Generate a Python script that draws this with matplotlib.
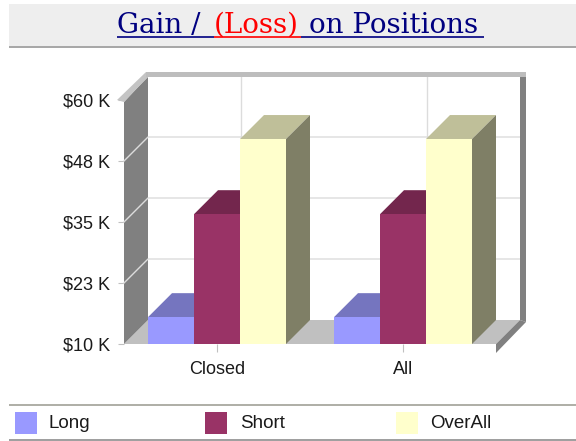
import matplotlib
matplotlib.use("Agg")
import matplotlib.pyplot as plt
from matplotlib.patches import Rectangle

categories = ["Closed", "All"]
series_names = ["Long", "Short", "OverAll"]
long_values = [15.5, 15.5]
short_values = [36.6, 36.6]
overall_values = [52, 52]
tick_values = [10, 22.5, 35, 47.5, 60]
tick_labels = ["$10 K", "$23 K", "$35 K", "$48 K", "$60 K"]

front_colors = ["#9999FF", "#993366", "#FFFFCC"]
top_colors = ["#7575BF", "#73264D", "#BFBF99"]
side_colors = ["#5F5F9F", "#5A1E3C", "#7F7F66"]

W, H = 576, 441
fig = plt.figure(figsize=(W / 100, H / 100), dpi=100, facecolor="white")

# overlay in pixel coordinates for title band and legend
bg = fig.add_axes([0, 0, 1, 1])
bg.set_xlim(0, W)
bg.set_ylim(H, 0)
bg.axis("off")

bg.add_patch(Rectangle((9, 4), W - 9, 42, fc="#EEEEEE", ec="none"))
bg.add_patch(Rectangle((9, 46), W - 9, 2, fc="#A8A8A8", ec="none"))

title_parts = ["Gain /", "(Loss)", "on Positions"]
title_colors = ["#000080", "#FF0000", "#000080"]
title_x = [117, 214, 309]
underline_x = [(117, 214), (214, 301), (301, 484)]
for txt, col, tx, (u0, u1) in zip(title_parts, title_colors, title_x, underline_x):
    bg.text(tx, 33, txt, color=col, family="DejaVu Serif", fontsize=20,
            va="baseline", ha="left")
    bg.plot([u0, u1], [37, 37], color=col, lw=1.2, solid_capstyle="butt")

# chart axes: front plane of the 3D box
left, right, floor, top = 124, 496, 344, 100
ax = fig.add_axes([left / W, 1 - floor / H, (right - left) / W, (floor - top) / H])
ax.set_xlim(-0.5, 1.5)
ax.set_ylim(10, 60)
ax.patch.set_visible(False)
for s in ax.spines.values():
    s.set_visible(False)


def px_x(n):
    return n / (right - left) * 2


def px_y(n):
    return n / (floor - top) * 50


dx, dy = px_x(24), px_y(24)
x0, x1, y0, y1 = -0.5, 1.5, 10, 60
frame = dict(clip_on=False, lw=0)

# back wall, floor, left wall
ax.fill([x0 + dx, x1 + dx, x1 + dx, x0 + dx], [y0 + dy, y0 + dy, y1 + dy, y1 + dy], color="white", zorder=1, **frame)
ax.fill([x0, x1, x1 + dx, x0 + dx], [y0, y0, y0 + dy, y0 + dy], color="#C0C0C0", zorder=2, **frame)
ax.fill([x0, x0 + dx, x0 + dx, x0], [y0, y0 + dy, y1 + dy, y1 - px_y(2)], color="#808080", zorder=2, **frame)

# grid on the walls
for v in tick_values[1:]:
    ax.plot([x0, x0 + dx, x1 + dx], [v, v + dy, v + dy], color="#DCDCDC", lw=1, zorder=3, clip_on=False)
for i in range(len(categories)):
    ax.plot([i + dx, i + dx], [y0 + dy, y1 + dy], color="#DCDCDC", lw=1, zorder=3, clip_on=False)

# frame edges: left diagonal, top band, right band, floor lip
back_top = y1 + dy
ax.fill([x0 - px_x(7), x0 + dx - px_x(2), x0 + dx, x0],
        [y1, back_top + px_y(4), back_top - px_y(1), y1 - px_y(2)], color="#C4C4C4", zorder=4, **frame)
ax.fill([x0 + dx - px_x(2), x1 + dx + px_x(6), x1 + dx + px_x(6), x0 + dx - px_x(2)],
        [back_top + px_y(4), back_top + px_y(4), back_top - px_y(1), back_top - px_y(1)], color="#BDBDBD", zorder=4, **frame)
ax.fill([x1 + dx, x1 + dx + px_x(6), x1 + dx + px_x(6), x1 + dx],
        [y0 + dy, y0 + dy - px_y(2), back_top - px_y(1), back_top - px_y(1)], color="#808080", zorder=4, **frame)
ax.fill([x1, x1 + dx, x1 + dx + px_x(6), x1],
        [y0, y0 + dy, y0 + dy - px_y(2), y0 - px_y(9)], color="#808080", zorder=4, **frame)

# bars
width = px_x(46)
all_values = [long_values, short_values, overall_values]
for s, values in enumerate(all_values):
    for i, v in enumerate(values):
        bx = i + (s - 1) * width
        l, r = bx - width / 2, bx + width / 2
        ax.bar(bx, v - y0, width, bottom=y0, color=front_colors[s], lw=0, zorder=6 + s * 2 + 1)
        ax.fill([l, r, r + dx, l + dx], [v, v, v + dy, v + dy], color=top_colors[s], lw=0, zorder=6 + s * 2, clip_on=False)
        ax.fill([r, r + dx, r + dx, r], [y0, y0 + dy, v + dy, v], color=side_colors[s], lw=0, zorder=6 + s * 2, clip_on=False)

ax.set_yticks(tick_values)
ax.set_yticklabels(tick_labels)
ax.set_xticks(range(len(categories)))
ax.set_xticklabels(categories)
ax.tick_params(axis="y", length=4, color="#C0C0C0", pad=6, labelsize=13, labelcolor="#1A1A1A")
ax.tick_params(axis="x", length=6, color="#C0C0C0", pad=6, labelsize=13, labelcolor="#1A1A1A")
for lab in ax.get_xticklabels() + ax.get_yticklabels():
    lab.set_family("Liberation Sans")

# legend band
bg.add_patch(Rectangle((9, 404), W - 9, 2, fc="#B0B0A8", ec="none"))
bg.add_patch(Rectangle((9, 439), W - 9, 1.5, fc="#A0A0A0", ec="none"))
swatch_x = [15, 205, 396]
label_x = [49, 240, 430]
for name, col, sx, lx in zip(series_names, front_colors, swatch_x, label_x):
    bg.add_patch(Rectangle((sx, 412), 22, 22, fc=col, ec="none"))
    bg.text(lx, 423, name, family="Liberation Sans", fontsize=13.5, color="#1A1A1A", va="center", ha="left")

fig.savefig("out.png", dpi=100)
